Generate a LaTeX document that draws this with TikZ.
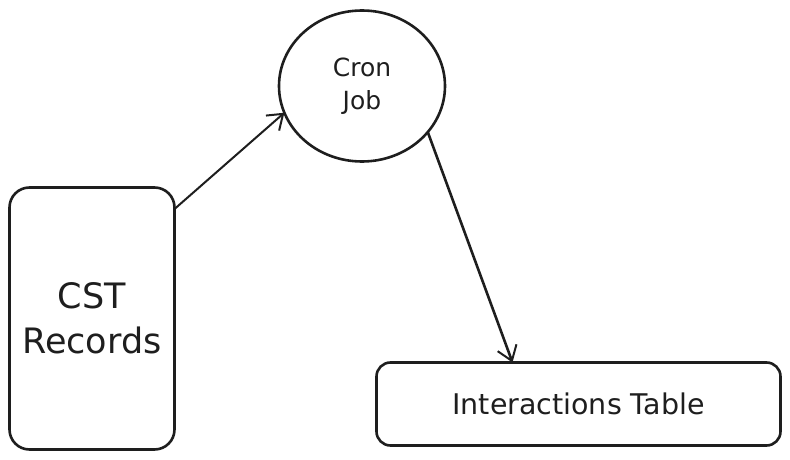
\documentclass[tikz,border=0pt]{standalone}
\usepackage{fontspec}
\setmainfont{DejaVu Sans}
\usetikzlibrary{arrows.meta,shapes.geometric}
\definecolor{ink}{HTML}{1E1E1E}
\begin{document}
\begin{tikzpicture}[x=1pt,y=-1pt,
  shapebox/.style={draw=ink, text=ink, line width=2.6pt, outer sep=0pt, inner sep=0pt, align=center},
  conn/.style={draw=ink, line width=2pt, line cap=round,
    -{Straight Barb[length=14pt,width=20pt,line width=2pt]}}]
\useasboundingbox (0,0) rectangle (790,460);
\node[shapebox, rectangle, rounded corners=20pt, minimum width=165pt, minimum height=262pt,
  font=\fontsize{35}{45}\selectfont] (cst) at (92,318.5) {CST\\Records};
\node[shapebox, ellipse, minimum width=166pt, minimum height=151pt,
  font=\fontsize{25}{33}\selectfont] (cron) at (362,86) {Cron\\Job};
\node[shapebox, rectangle, rounded corners=14pt, minimum width=404pt, minimum height=83pt,
  font=\fontsize{28.5}{30}\selectfont] (itab) at (578.5,404) {Interactions Table};
\draw[conn] (cst.53) -- (cron.199);
\draw[conn, line width=2.6pt] (cron.325) -- ([xshift=-66pt]itab.north);
\end{tikzpicture}
\end{document}
